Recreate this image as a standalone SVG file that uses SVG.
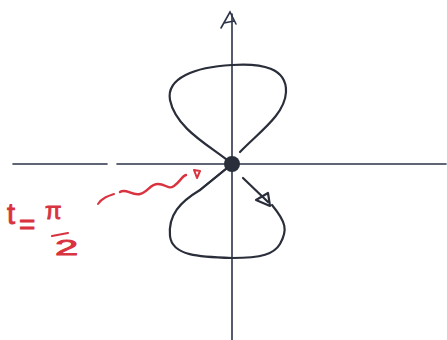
<svg xmlns="http://www.w3.org/2000/svg" width="447" height="340" viewBox="0 0 447 340">
<style>
.axis{stroke:#2b3348;stroke-width:1.6;fill:none;stroke-linecap:round}
.curve{stroke:#2a2e3a;stroke-width:2.2;fill:none;stroke-linecap:round;stroke-linejoin:round}
.red{stroke:#d8333f;fill:none;stroke-linecap:round;stroke-linejoin:round}
.lbl{fill:#d8333f;stroke:#d8333f;stroke-width:0.9;font-family:"Liberation Sans",sans-serif}
</style>
<rect width="447" height="340" fill="#ffffff"/>
<g id="axes">
<line class="axis" x1="13" y1="164" x2="107" y2="164"/>
<line class="axis" x1="117" y1="164" x2="446" y2="164"/>
<line class="axis" x1="232" y1="14" x2="232" y2="340"/>
<path class="axis" d="M221,28 L230,12 L236,24 M224,23 L234,21"/>
</g>
<g id="curve">
<path class="curve" d="M232,164 C214,148 176,130 170,100 C166,78 195,67 232,65 C262,63 287,68 286,92 C285,115 258,133 240,152"/>
<path class="curve" d="M232,164 L200,190 C180,202 168,215 170,236 C172,256 200,257 232,258 C262,258 274,254 280,244 C288,230 286,222 272,205"/>
<path class="curve" stroke-width="5" d="M232,164 L200,190"/>
<line class="curve" x1="243" y1="178" x2="268" y2="202"/>
<path class="curve" stroke-width="1.8" d="M256,200 L268,193 L270,206 Z"/>
<circle cx="232" cy="164" r="8" fill="#2a2e3a"/>
</g>
<g id="annotation">
<path class="red" stroke-width="2" d="M98,204 C102,198 108,196 114,194"/>
<path class="red" stroke-width="2.4" d="M120,192 C126,188 132,196 140,194 C148,192 150,184 158,184 C166,184 168,190 174,186 C180,182 182,176 186,175"/>
<path class="red" stroke-width="2" d="M194,170 L200,171 L197,178 Z"/>
<text class="lbl" x="7" y="224" font-size="29">t</text>
<text class="lbl" x="19" y="234" font-size="28">=</text>
<text class="lbl" x="45" y="219" font-size="24">π</text>
<line class="red" stroke-width="2.2" x1="52" y1="236" x2="68" y2="233"/>
<text class="lbl" font-size="22" transform="translate(55,255) scale(1.9,1)">2</text>
</g>
</svg>
